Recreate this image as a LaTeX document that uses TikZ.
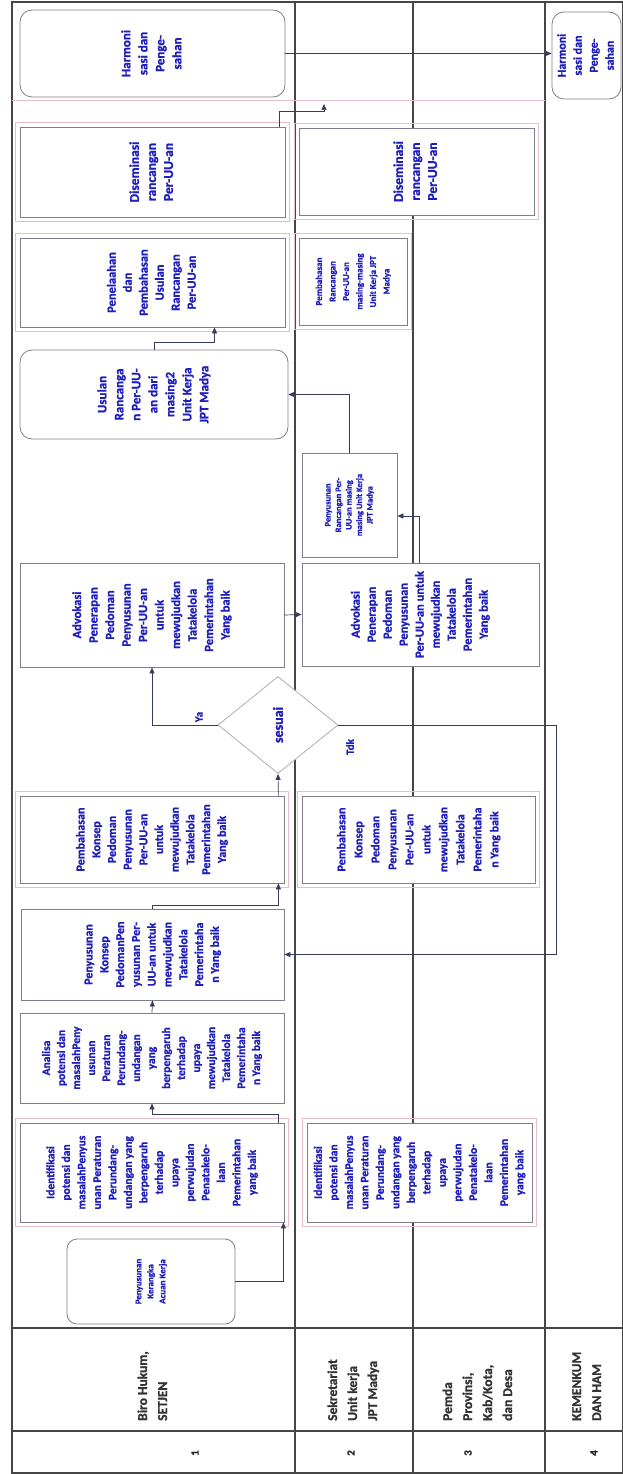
\documentclass[tikz,border=0pt]{standalone}
\usepackage{fontspec}
\setmainfont{Carlito}[BoldFont={Carlito Bold},BoldFeatures={FakeBold=1.2}]
\usepackage{graphicx}
\usepackage{tikz}
\usetikzlibrary{arrows.meta,calc,positioning,shapes.geometric,fit}

\definecolor{laneline}{RGB}{70,70,70}
\definecolor{boxline}{RGB}{125,125,140}
\definecolor{txtblue}{RGB}{30,30,190}
\definecolor{flowline}{RGB}{55,60,95}
\definecolor{grpink}{RGB}{232,190,200}
\definecolor{decline}{RGB}{175,175,180}

\newcommand{\vt}[1]{\rotatebox{90}{\begin{tabular}{@{}c@{}}#1\end{tabular}}}
\newcommand{\vtl}[1]{\rotatebox{90}{\begin{tabular}{@{}l@{}}#1\end{tabular}}}
\newcommand{\fs}[2]{\fontsize{#1}{#2}\selectfont\bfseries}

\begin{document}
\begin{tikzpicture}[x=1pt,y=-1pt,
    lane/.style={draw=laneline,line width=1.2pt},
    proc/.style={draw=boxline,fill=white,line width=0.8pt,inner sep=0pt,text=txtblue,font=\fs{11}{15.5}},
    rproc/.style={proc,rounded corners=12pt},
    grp/.style={draw=grpink,line width=0.8pt,inner sep=4pt},
    flow/.style={draw=flowline,line width=0.7pt,-{Triangle[length=6pt,width=5pt]}},
    head/.style={inner sep=0pt,text=black!80,font=\fs{13.5}{20}},
    lbl/.style={inner sep=0pt,text=txtblue,font=\fs{11}{13},rotate=90},
    num/.style={inner sep=0pt,text=black!85,font=\fs{11}{13},rotate=90}]
    \useasboundingbox (0,0) rectangle (623,1474);

    % swimlanes
    \draw[lane] (12,2) rectangle (623,1473);
    \foreach \x in {295,413,545} \draw[lane] (\x,2) -- (\x,1473);
    \foreach \y in {1328,1431} \draw[lane] (12,\y) -- (623,\y);
    \draw[grp] (12,100) -- (545,100);

    % lane 1: Biro Hukum
    \node[rproc,minimum width=265pt,minimum height=87pt,font=\fs{13}{17}] (harm1) at (152.5,53.5) {\vt{Harmoni\\sasi dan\\Penge-\\sahan}};
    \node[proc,minimum width=265pt,minimum height=90pt,font=\fs{13.5}{17}] (dis1) at (152.5,172) {\vt{Diseminasi\\rancangan\\Per-UU-an}};
    \node[proc,minimum width=265pt,minimum height=89pt,font=\fs{12.5}{16}] (bah1) at (152.5,282.5) {\vt{Penelaahan\\dan\\Pembahasan\\Usulan\\Rancangan\\Per-UU-an}};
    \node[rproc,minimum width=268pt,minimum height=89pt,font=\fs{13}{17}] (usul1) at (154,394.5) {\vt{Usulan\\Rancanga\\n Per-UU-\\an dari\\masing2\\Unit Kerja\\JPT Madya}};
    \node[proc,minimum width=264pt,minimum height=104pt,font=\fs{12.5}{16.5}] (adv1) at (152,615) {\vt{Advokasi\\Penerapan\\Pedoman\\Penyusunan\\Per-UU-an\\untuk\\mewujudkan\\Tatakelola\\Pemerintahan\\Yang baik}};
    \node[proc,minimum width=264pt,minimum height=87pt,font=\fs{12}{15.7}] (kons1) at (152,839.5) {\vt{Pembahasan\\Konsep\\Pedoman\\Penyusunan\\Per-UU-an\\untuk\\mewujudkan\\Tatakelola\\Pemerintahan\\Yang baik}};
    \node[proc,minimum width=263pt,minimum height=91pt,font=\fs{12}{15.8}] (susk1) at (152.5,954.5) {\vt{Penyusunan\\Konsep\\PedomanPen\\yusunan Per-\\UU-an untuk\\mewujudkan\\Tatakelola\\Pemerintaha\\n Yang baik}};
    \node[proc,minimum width=264pt,minimum height=90pt,font=\fs{11.5}{15}] (anal1) at (152,1058) {\vt{Analisa\\potensi dan\\masalahPeny\\usunan\\Peraturan\\Perundang-\\undangan\\yang\\berpengaruh\\terhadap\\upaya\\mewujudkan\\Tatakelola\\Pemerintaha\\n Yang baik}};
    \node[proc,minimum width=264pt,minimum height=99pt,font=\fs{11.5}{15.5}] (iden1) at (152,1172.5) {\vt{Identifikasi\\potensi dan\\masalahPenyus\\unan Peraturan\\Perundang-\\undangan yang\\berpengaruh\\terhadap\\upaya\\perwujudan\\Penatakelo-\\laan\\Pemerintahan\\yang baik}};
    \node[rproc,rounded corners=10pt,minimum width=168pt,minimum height=85pt,font=\fs{9}{12}] (kak) at (151,1281.5) {\vt{Penyusunan\\Kerangka\\Acuan Kerja}};

    % lane 2: Sekretariat
    \node[proc,minimum width=235pt,minimum height=87pt,font=\fs{13.5}{17}] (dis2) at (416.5,171.5) {\vt{Diseminasi\\rancangan\\Per-UU-an}};
    \node[proc,minimum width=108pt,minimum height=87pt,font=\fs{9}{13.5}] (bah2) at (353,281.5) {\vt{Pembahasan\\Rancangan\\Per-UU-an\\masing-masing\\Unit Kerja JPT\\Madya}};
    \node[proc,minimum width=95pt,minimum height=104pt,font=\fs{8.5}{10.5}] (susr2) at (349.5,505) {\vt{Penyusunan\\Rancangan Per-\\UU-an masing\\masing Unit Kerja\\JPT Madya}};
    \node[proc,minimum width=237pt,minimum height=103pt,font=\fs{12.5}{16}] (adv2) at (420.5,614.5) {\vt{Advokasi\\Penerapan\\Pedoman\\Penyusunan\\Per-UU-an untuk\\mewujudkan\\Tatakelola\\Pemerintahan\\Yang baik}};
    \node[proc,minimum width=233pt,minimum height=87pt,font=\fs{12}{17}] (kons2) at (418.5,839.5) {\vt{Pembahasan\\Konsep\\Pedoman\\Penyusunan\\Per-UU-an\\untuk\\mewujudkan\\Tatakelola\\Pemerintaha\\n Yang baik}};
    \node[proc,minimum width=225pt,minimum height=99pt,font=\fs{11.5}{15.5}] (iden2) at (419.5,1172.5) {\vt{Identifikasi\\potensi dan\\masalahPenyus\\unan Peraturan\\Perundang-\\undangan yang\\berpengaruh\\terhadap\\upaya\\perwujudan\\Penatakelo-\\laan\\Pemerintahan\\yang baik}};

    % lane 4: Kemenkum
    \node[rproc,minimum width=69pt,minimum height=87pt,font=\fs{12}{16}] (harm4) at (586.5,55.5) {\vt{Harmoni\\sasi dan\\Penge-\\sahan}};

    % decision
    \node[diamond,draw=decline,fill=white,line width=0.8pt,inner sep=0pt,minimum width=120pt,minimum height=97pt,text=txtblue,font=\fs{14}{16}] (dec) at (278,725) {\rotatebox{90}{sesuai}};

    % group frames
    \foreach \n in {dis1,dis2,bah1,bah2,kons1,kons2,iden1,iden2}
      \node[grp,fit=(\n)] (g\n) {};

    % flow
    \coordinate (disend) at (324,104);
    \draw[flow] (kak.east) -| ([xshift=-1pt]iden1.south east);
    \draw[flow] ([xshift=-6pt]iden1.north east) -- ++(0,-8) -| (anal1.south);
    \draw[flow] (anal1.north) -- (susk1.south);
    \draw[flow] (susk1.north) -- ++(0,-3) -| ([xshift=-6pt]kons1.south east);
    \draw[flow] ([xshift=-6pt]kons1.north east) -- (dec.south);
    \draw[flow] (dec.west) -| (adv1.south);
    \draw[flow] (dec.east) -- ++(218,0) |- (susk1.east);
    \draw[flow] (adv1.east) -- (adv2.west);
    \draw[flow] ([xshift=-1.5pt]adv2.north) |- ($(susr2.east)+(0,11)$);
    \draw[flow] (susr2.north) |- (usul1.east);
    \draw[flow] (usul1.north) -- ++(0,-7) -| ([xshift=62pt]bah1.south);
    \draw[flow] ([xshift=-6pt]dis1.north east) -- ++(0,-15) -| (disend);
    \draw[flow] (harm1.east) -- (harm1.east -| harm4.west);

    \node[lbl] (ya) at (199,717) {Ya};
    \node[lbl] (tdk) at (350,747) {Tdk};

    % header
    \node[head,anchor=south] (hbiro) at (153,1421) {\vtl{Biro Hukum,\\SETJEN}};
    \node[head,anchor=south] (hsek) at (353,1421) {\vtl{Sekretariat\\Unit kerja\\JPT Madya}};
    \node[head,anchor=south] (hpem) at (478,1421) {\vtl{Pemda\\Provinsi,\\Kab/Kota,\\dan Desa}};
    \node[head,anchor=south] (hkem) at (587,1421) {\vtl{KEMENKUM\\DAN HAM}};
    \node[num] (n1) at (195,1453) {1};
    \node[num] (n2) at (351,1453) {2};
    \node[num] (n3) at (468,1453) {3};
    \node[num] (n4) at (594,1453) {4};
\end{tikzpicture}
\end{document}
